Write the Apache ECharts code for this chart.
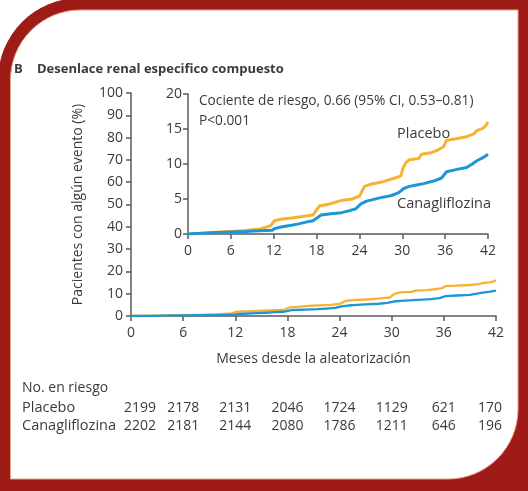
<!DOCTYPE html>
<html>
<head>
<meta charset="utf-8">
<script src="https://cdn.jsdelivr.net/npm/echarts@6/dist/echarts.min.js"></script>
<style>
    html, body { margin: 0; padding: 0; background: #fff; }
    #chart { width: 528px; height: 491px; }
</style>
</head>
<body>
<div id="chart"></div>
<script>
    // meses con marca en el eje X
    var months = [0, 6, 12, 18, 24, 30, 36, 42];

    // curvas de Kaplan-Meier (mes, % con evento)
    var placeboT = [0, 2, 4, 6, 8, 10, 11, 11.6, 12.1, 13, 14.5, 16, 17.5, 18.1, 18.4, 19.5, 20.5, 21.5, 23, 24,
        24.4, 24.7, 25.5, 27, 28, 29.3, 29.8, 30.1, 30.5, 31, 32.3, 32.7, 34, 35, 35.8, 36.2, 37.5, 39, 40, 40.5, 41.3, 41.7, 42];
    var placeboV = [0, 0.1, 0.25, 0.35, 0.5, 0.7, 1.0, 1.2, 1.9, 2.1, 2.3, 2.5, 2.7, 3.6, 4.0, 4.2, 4.5, 4.8, 5.0, 5.4,
        6.2, 6.8, 7.1, 7.4, 7.7, 8.1, 8.3, 9.4, 10.2, 10.6, 10.8, 11.4, 11.6, 12.0, 12.5, 13.4, 13.6, 13.9, 14.3, 14.8, 15.1, 15.5, 16.0];

    var canaT = [0, 2, 4, 6, 8, 10, 11.8, 12.2, 13, 14.5, 15.5, 16.5, 17.5, 18.2, 18.6, 20, 21.5, 22.5, 23.5, 24.2,
        25, 26, 27, 28.5, 29.5, 30.2, 31, 32, 33, 34.5, 35.5, 36.2, 37.5, 39, 39.8, 40.5, 41.3, 42];
    var canaV = [0, 0.1, 0.2, 0.3, 0.35, 0.45, 0.55, 0.8, 1.0, 1.25, 1.45, 1.7, 1.9, 2.4, 2.7, 2.9, 3.05, 3.3, 3.6, 4.3,
        4.7, 4.95, 5.2, 5.5, 5.9, 6.5, 6.8, 7.0, 7.2, 7.6, 8.0, 8.9, 9.2, 9.5, 10.0, 10.5, 10.9, 11.4];

    // numero en riesgo
    var placeboRisk = [2199, 2178, 2131, 2046, 1724, 1129, 621, 170];
    var canaRisk = [2202, 2181, 2144, 2080, 1786, 1211, 646, 196];

    var FONT = '"Open Sans", "Noto Sans", sans-serif';
    var TEXT = '#3b3b3b';
    var AXIS = '#5a5a5a';
    var ORANGE = '#f8b232';
    var BLUE = '#1b97d7';
    var SIZE = 14;

    function pairs(t, v) {
        var out = [];
        for (var i = 0; i < t.length; i++) {
            out.push([t[i], v[i]]);
        }
        return out;
    }

    function valueAxis(gridIndex, max, interval, margin, extra) {
        var ax = {
            type: 'value',
            gridIndex: gridIndex,
            min: 0,
            max: max,
            interval: interval,
            splitLine: { show: false },
            axisLine: { show: true, lineStyle: { color: AXIS, width: 1.5 } },
            axisTick: { show: true, inside: false, length: 5, lineStyle: { color: AXIS, width: 1.5 } },
            axisLabel: { color: TEXT, fontFamily: FONT, fontSize: SIZE, margin: margin }
        };
        for (var k in extra) ax[k] = extra[k];
        return ax;
    }

    function lineSeries(name, data, color, idx, width) {
        return {
            name: name,
            type: 'line',
            xAxisIndex: idx,
            yAxisIndex: idx,
            data: data,
            showSymbol: false,
            silent: true,
            lineStyle: { color: color, width: width, join: 'round' },
            z: 3
        };
    }

    function txt(id, x, y, text, size, weight) {
        return {
            type: 'text',
            id: id,
            x: x,
            y: y,
            silent: true,
            style: {
                text: text,
                fill: TEXT,
                font: (weight || 'normal') + ' ' + size + 'px ' + FONT,
                verticalAlign: 'middle'
            }
        };
    }

    var chart = echarts.init(document.getElementById('chart'));

    var option = {
        animation: false,
        backgroundColor: '#fff',
        grid: [
            { left: 131, top: 93, width: 365, height: 223 },
            { left: 188, top: 94, width: 300, height: 140 }
        ],
        xAxis: [
            valueAxis(0, 42, 6, 10, {
                name: 'Meses desde la aleatorización',
                nameLocation: 'middle',
                nameGap: 36,
                nameTextStyle: { color: TEXT, fontFamily: FONT, fontSize: SIZE }
            }),
            valueAxis(1, 42, 6, 10, {})
        ],
        yAxis: [
            valueAxis(0, 100, 10, 8, {
                name: 'Pacientes con algún evento (%)',
                nameLocation: 'middle',
                nameGap: 46,
                nameTextStyle: { color: TEXT, fontFamily: FONT, fontSize: SIZE }
            }),
            valueAxis(1, 20, 5, 6, {})
        ],
        series: [
            lineSeries('Placebo', pairs(placeboT, placeboV), ORANGE, 0, 2.3),
            lineSeries('Canagliflozina', pairs(canaT, canaV), BLUE, 0, 2.3),
            lineSeries('Placebo', pairs(placeboT, placeboV), ORANGE, 1, 3),
            lineSeries('Canagliflozina', pairs(canaT, canaV), BLUE, 1, 3)
        ],
        graphic: [
            {
                type: 'rect', id: 'frame', silent: true, z: -10,
                shape: { x: -2, y: -2, width: 540, height: 505, r: [82, 0, 0, 0] },
                style: { fill: '#9e1b18' }
            },
            {
                type: 'rect', id: 'paper', silent: true, z: -9,
                shape: { x: 10.5, y: 10, width: 507.5, height: 469, r: [70, 0, 70, 0] },
                style: { fill: '#fff', stroke: '#e6a585', lineWidth: 1 }
            },
            txt('tb', 14, 69, 'B', 13, 'bold'),
            txt('title', 37, 69, 'Desenlace renal especifico compuesto', 13, 'bold'),
            txt('hr', 199, 101, 'Cociente de riesgo, 0.66 (95% CI, 0.53\u20130.81)', 13.7),
            txt('p', 199, 121, 'P<0.001', 13.7),
            txt('lp', 397, 134, 'Placebo', 14.5),
            txt('lc', 397, 204, 'Canagliflozina', 14.5),
            txt('risk', 22, 388, 'No. en riesgo', SIZE),
            txt('rp', 22, 408, 'Placebo', 14.5),
            txt('rc', 22, 426, 'Canagliflozina', 14.5)
        ]
    };

    chart.setOption(option);

    // tabla de riesgo alineada con el eje X principal
    function drawRiskTable() {
        var items = [];
        for (var i = 0; i < months.length; i++) {
            var x = chart.convertToPixel({ xAxisIndex: 0 }, months[i]);
            if (i === 0) x += 9;
            if (i === months.length - 1) x -= 6;
            var rows = [[placeboRisk[i], 408], [canaRisk[i], 426]];
            for (var j = 0; j < rows.length; j++) {
                var t = txt('n' + j + '_' + i, x, rows[j][1], String(rows[j][0]), SIZE);
                t.style.align = 'center';
                items.push(t);
            }
        }
        chart.setOption({ graphic: items });
    }

    drawRiskTable();
</script>
</body>
</html>
